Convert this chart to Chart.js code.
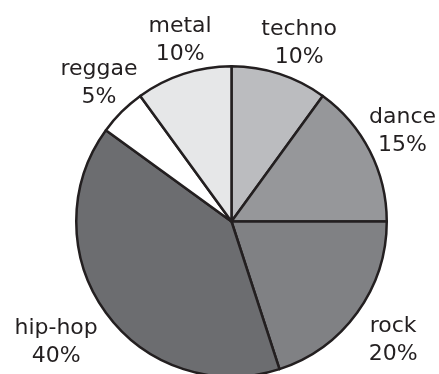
<!DOCTYPE html>
<html>
<head>
<meta charset="utf-8">
<script src="https://cdn.jsdelivr.net/npm/chart.js@4/dist/chart.umd.min.js"></script>
<style>
  html, body { margin: 0; padding: 0; background: #ffffff; overflow: hidden; }
  #wrap { position: absolute; left: 0; top: 0; width: 439px; height: 400px; }
</style>
</head>
<body>
<div id="wrap"><canvas id="c" width="439" height="400"></canvas></div>
<script>
// ---- data ----
const categories = ['techno', 'dance', 'rock', 'hip-hop', 'reggae', 'metal'];
const shares = [10, 15, 20, 40, 5, 10];

// ---- style ----
const palette = ['#bbbcbf', '#96979a', '#808184', '#6c6d70', '#ffffff', '#e6e7e8'];
const ink = '#231f20';
// label placement tweaks (extra radius px, angle shift deg), keyed by category
const labelPlacement = {
  'techno': [30, 3.4],
  'dance': [35.7, 0.6],
  'rock': [48.7, 1.6],
  'hip-hop': [61, 0.2],
  'reggae': [32.2, 0],
  'metal': [27.9, 1.7]
};

const outsideLabels = {
  id: 'outsideLabels',
  afterDatasetsDraw(chart) {
    const ctx = chart.ctx;
    const meta = chart.getDatasetMeta(0);
    ctx.save();
    ctx.font = '22px "DejaVu Sans"';
    ctx.fillStyle = ink;
    ctx.textAlign = 'center';
    ctx.textBaseline = 'alphabetic';
    meta.data.forEach((arc, i) => {
      const p = arc.getProps(['x', 'y', 'startAngle', 'endAngle', 'outerRadius'], true);
      const name = chart.data.labels[i];
      const pl = labelPlacement[name] || [30, 0];
      const mid = (p.startAngle + p.endAngle) / 2 + pl[1] * Math.PI / 180;
      const d = p.outerRadius + pl[0];
      const cx = p.x + d * Math.cos(mid);
      const cy = p.y + d * Math.sin(mid);
      ctx.fillText(name, cx, cy - 14);
      ctx.fillText(chart.data.datasets[0].data[i] + '%', cx, cy + 14);
    });
    ctx.restore();
  }
};

new Chart(document.getElementById('c'), {
  type: 'pie',
  data: {
    labels: categories,
    datasets: [{
      data: shares,
      backgroundColor: palette,
      borderColor: ink,
      borderWidth: 2.5,
      borderJoinStyle: 'round'
    }]
  },
  options: {
    responsive: false,
    animation: false,
    rotation: 0,
    layout: { padding: { left: 75, right: 51, top: 65, bottom: 22 } },
    plugins: {
      legend: { display: false },
      tooltip: { enabled: false }
    }
  },
  plugins: [outsideLabels]
});
</script>
</body>
</html>
